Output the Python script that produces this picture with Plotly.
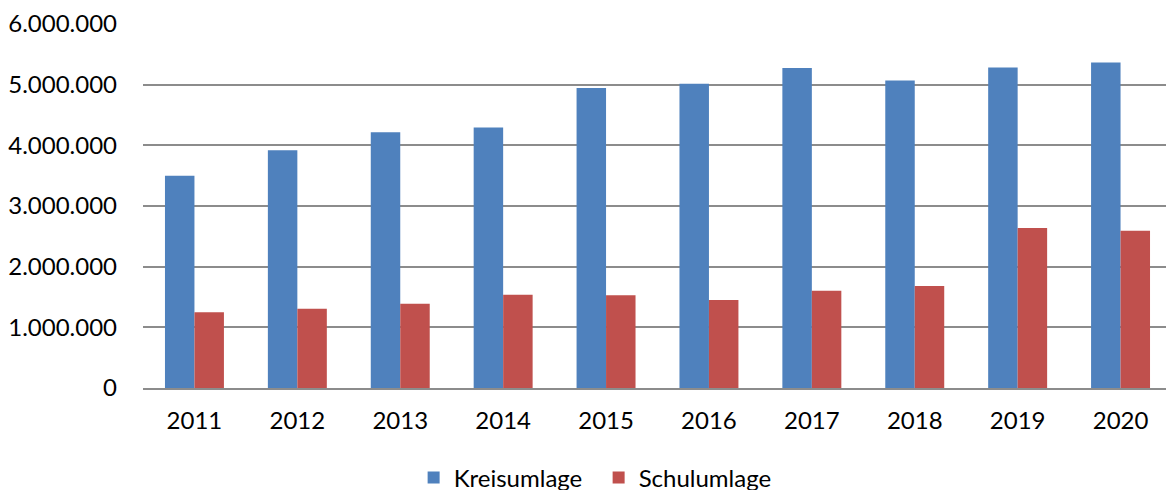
import plotly.graph_objects as go

years = ["2011", "2012", "2013", "2014", "2015", "2016", "2017", "2018", "2019", "2020"]
kreisumlage = [3500000, 3920000, 4215000, 4295000, 4945000, 5015000, 5275000, 5070000, 5285000, 5365000]
schulumlage = [1248000, 1307000, 1390000, 1538000, 1528000, 1450000, 1604000, 1681000, 2637000, 2593000]
y_ticks = [0, 1000000, 2000000, 3000000, 4000000, 5000000, 6000000]

FONT = "Lato"

fig = go.Figure()
fig.add_trace(go.Bar(name="Kreisumlage", x=years, y=kreisumlage,
                     marker=dict(color="#4F81BD", line=dict(width=0))))
fig.add_trace(go.Bar(name="Schulumlage", x=years, y=schulumlage,
                     marker=dict(color="#C0504D", line=dict(width=0))))

fig.update_layout(
    width=1174, height=490,
    margin=dict(l=134.5, r=9.5, t=16, b=110, autoexpand=False),
    paper_bgcolor="white", plot_bgcolor="white",
    barmode="group", bargap=0.427, bargroupgap=0,
    separators=",.",
    font=dict(family=FONT, size=24, color="#000000"),
    showlegend=True,
    legend=dict(orientation="h", x=0.263, xanchor="left", y=-0.247, yanchor="middle",
                font=dict(family=FONT, size=24), itemsizing="constant",
                entrywidth=140, entrywidthmode="pixels",
                traceorder="normal", tracegroupgap=0),
    xaxis=dict(showgrid=False, showline=True, linecolor="#8C8C8C", linewidth=1.5,
               ticks="", tickfont=dict(size=24), ticklabelstandoff=10,
               automargin=False, fixedrange=True),
    yaxis=dict(range=[0, 6000000], tickvals=y_ticks, tickformat=",.0f",
               showgrid=True, gridcolor="#8C8C8C", gridwidth=1.5,
               zeroline=False, showline=False, ticks="",
               tickfont=dict(size=24), ticklabelstandoff=25,
               automargin=False, fixedrange=True),
)

fig.write_html("out.html")
